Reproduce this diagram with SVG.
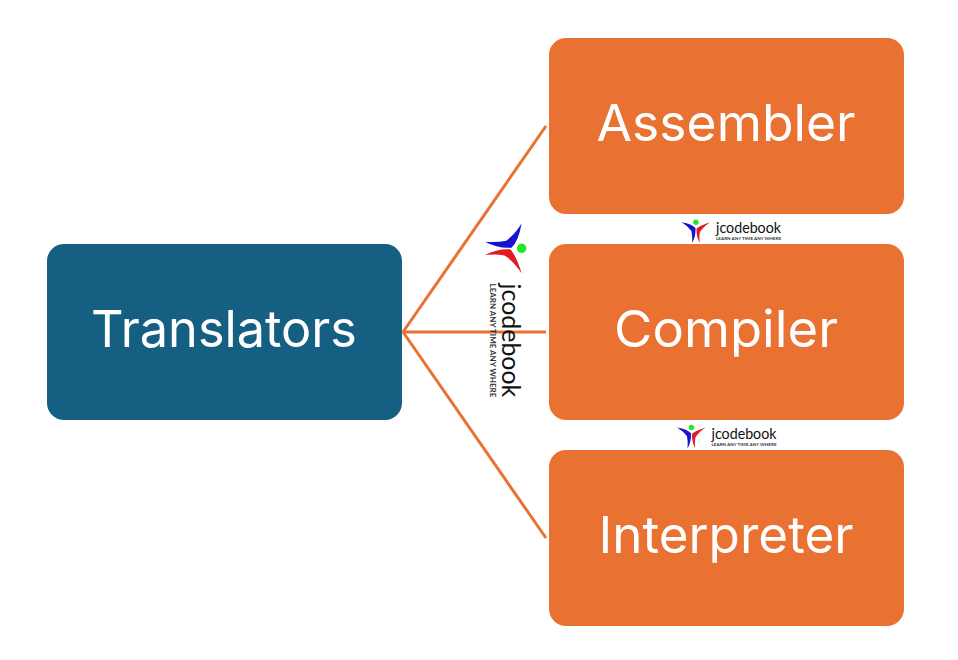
<svg xmlns="http://www.w3.org/2000/svg" xmlns:xlink="http://www.w3.org/1999/xlink" width="958" height="660" viewBox="0 0 958 660">
<style>
.box{stroke:none}
.blue{fill:#156082}
.orange{fill:#E97132}
.label{font-family:"Inter","Noto Sans",sans-serif;font-size:51px;fill:#fff;text-anchor:middle}
.conn{stroke:#E97132;stroke-width:3;fill:none}
.lg1{font-family:"Lato","Liberation Sans",sans-serif;font-size:14.5px;fill:#111}
.lg2{font-family:"Lato","Liberation Sans",sans-serif;font-size:4.4px;font-weight:bold;fill:#333}
</style>
<defs>
<g id="logo">
<path d="M11.6 12.2Q22 14 25.5 18Q26 26 22.1 33.1Q22.5 26 21.5 21Q18 16 11.6 12.2Z" fill="#1414d2"/>
<path d="M40.2 12.2Q31 15 26.5 18.5Q26 26 29.7 33.1Q29 26 30 22Q33 17 40.2 12.2Z" fill="#e01b24"/>
<circle cx="25.9" cy="12.2" r="2.7" fill="#22e822"/>
<text class="lg1" x="46" y="23.4" textLength="65" lengthAdjust="spacingAndGlyphs">jcodebook</text>
<text class="lg2" x="46" y="30.4" textLength="65" lengthAdjust="spacingAndGlyphs">LEARN ANY TIME ANY WHERE</text>
</g>
</defs>
<rect width="958" height="660" fill="#fff"/>
<g id="connectors">
<path class="conn" d="M403 332L546 126"/>
<path class="conn" d="M403 332H546"/>
<path class="conn" d="M403 332L546 538"/>
</g>
<g id="translators"><rect class="box blue" x="47" y="244" width="355" height="176" rx="17"/><text class="label" x="224" y="347" textLength="266" lengthAdjust="spacingAndGlyphs">Translators</text></g>
<g id="assembler"><rect class="box orange" x="549" y="38" width="355" height="176" rx="17"/><text class="label" x="726" y="141" textLength="259" lengthAdjust="spacingAndGlyphs">Assembler</text></g>
<g id="compiler"><rect class="box orange" x="549" y="244" width="355" height="176" rx="17"/><text class="label" x="726" y="347" textLength="224" lengthAdjust="spacingAndGlyphs">Compiler</text></g>
<g id="interpreter"><rect class="box orange" x="549" y="450" width="355" height="176" rx="17"/><text class="label" x="726" y="553" textLength="255" lengthAdjust="spacingAndGlyphs">Interpreter</text></g>
<use href="#logo" xlink:href="#logo" transform="translate(670 210)"/>
<use href="#logo" xlink:href="#logo" transform="translate(665.5 415.3)"/>
<use href="#logo" xlink:href="#logo" transform="translate(543 203) rotate(90) scale(1.75)"/>
</svg>
